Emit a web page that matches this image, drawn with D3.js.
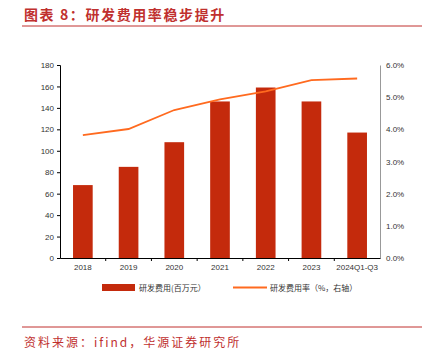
<html><head>
<meta charset="utf-8">
<script src="https://d3js.org/d3.v7.min.js"></script>
<style>
  body { margin: 0; background: #fff; }
  text { font-family: "Liberation Sans", Arial, sans-serif; }
  .cjk { font-family: "Noto Sans CJK SC", sans-serif; }
</style>
</head>
<body>
<svg id="chart" width="429" height="351"></svg>
<script>
// chart data
const years = ["2018", "2019", "2020", "2021", "2022", "2023", "2024Q1-Q3"];
const rdExpense = [68, 85, 108, 146, 159, 146, 117];   // 百万元
const rdRate = [3.82, 4.01, 4.6, 4.93, 5.18, 5.53, 5.58]; // %
const leftTicks = [0, 20, 40, 60, 80, 100, 120, 140, 160, 180];
const rightTicks = [0, 1, 2, 3, 4, 5, 6];

let svg = d3.select("svg#chart");
let margin = { "top": 65, "left": 60, "right": 49, "bottom": 93 };
let chartWidth = 429 - margin.left - margin.right;
let chartHeight = 351 - margin.top - margin.bottom;

const red = "#C42A0C";
const orange = "#FF6A1F";
const titleRed = "#C0302E";

// title + rules
svg.append("text").attr("class", "cjk")
  .attr("x", 24).attr("y", 20)
  .attr("fill", titleRed).attr("font-size", 14).attr("font-weight", "bold")
  .attr("letter-spacing", 1.6)
  .text("图表 8：研发费用率稳步提升");
svg.append("line").attr("x1", 22).attr("x2", 422).attr("y1", 26).attr("y2", 26)
  .attr("stroke", titleRed).attr("stroke-width", 1);
svg.append("line").attr("x1", 22).attr("x2", 422).attr("y1", 327).attr("y2", 327)
  .attr("stroke", titleRed).attr("stroke-width", 1);
svg.append("text").attr("class", "cjk")
  .attr("x", 24).attr("y", 347)
  .attr("fill", titleRed).attr("font-size", 12)
  .attr("letter-spacing", 2)
  .text("资料来源：ifind，华源证券研究所");

let g = svg.append("g").attr("transform", "translate(" + margin.left + "," + margin.top + ")");

const xScale = d3.scaleBand().domain(years).range([0, chartWidth]).paddingInner(0.57).paddingOuter(0.285);
const xAxisScale = d3.scaleBand().domain(years).range([0, chartWidth]);
const yLeft = d3.scaleLinear().domain([0, 180]).range([chartHeight, 0]);
const yRight = d3.scaleLinear().domain([0, 6]).range([chartHeight, 0]);

// bars
g.selectAll("rect.bar").data(rdExpense).join("rect")
  .attr("class", "bar")
  .attr("x", (d, i) => xScale(years[i]))
  .attr("width", xScale.bandwidth())
  .attr("y", d => yLeft(d))
  .attr("height", d => chartHeight - yLeft(d))
  .attr("fill", red);

// line
const line = d3.line()
  .x((d, i) => xAxisScale(years[i]) + xAxisScale.bandwidth() / 2)
  .y(d => yRight(d));
g.append("path").datum(rdRate)
  .attr("d", line).attr("fill", "none")
  .attr("stroke", orange).attr("stroke-width", 1.8);

// left axis
let leftAxis = d3.axisLeft(yLeft).tickValues(leftTicks).tickSize(3).tickPadding(3);
let la = g.append("g").call(leftAxis);
la.select(".domain").attr("stroke", "#000");
la.selectAll(".tick line").attr("stroke", "#000");
la.selectAll("text").attr("font-size", 8).attr("fill", "#333");

// right axis
let rightAxis = d3.axisRight(yRight).tickValues(rightTicks).tickSize(0).tickPadding(6)
  .tickFormat(d => d.toFixed(1) + "%");
let ra = g.append("g").attr("transform", "translate(" + chartWidth + ",0)").call(rightAxis);
ra.select(".domain").attr("stroke", "#999");
ra.selectAll("text").attr("font-size", 8).attr("fill", "#333");

// x axis
let bottomAxis = d3.axisBottom(xAxisScale).tickSize(0).tickPadding(6);
let xa = g.append("g").attr("transform", "translate(0," + chartHeight + ")").call(bottomAxis);
xa.select(".domain").attr("stroke", "#000");
xa.selectAll("text").attr("font-size", 8).attr("fill", "#333");
// tick marks at band boundaries
xa.selectAll("line.sep").data(years.slice(1)).join("line")
  .attr("class", "sep")
  .attr("x1", d => xAxisScale(d)).attr("x2", d => xAxisScale(d))
  .attr("y1", 0).attr("y2", 3).attr("stroke", "#000");

// legend
let legend = svg.append("g");
legend.append("rect").attr("x", 102).attr("y", 284).attr("width", 33).attr("height", 7).attr("fill", red);
legend.append("text").attr("class", "cjk").attr("x", 139).attr("y", 291)
  .attr("font-size", 8).attr("fill", "#333").text("研发费用(百万元）");
legend.append("line").attr("x1", 233).attr("x2", 267).attr("y1", 287.5).attr("y2", 287.5)
  .attr("stroke", orange).attr("stroke-width", 1.8);
legend.append("text").attr("class", "cjk").attr("x", 270).attr("y", 291)
  .attr("font-size", 8).attr("fill", "#333").text("研发费用率（%，右轴）");
</script>
</body>
</html>
